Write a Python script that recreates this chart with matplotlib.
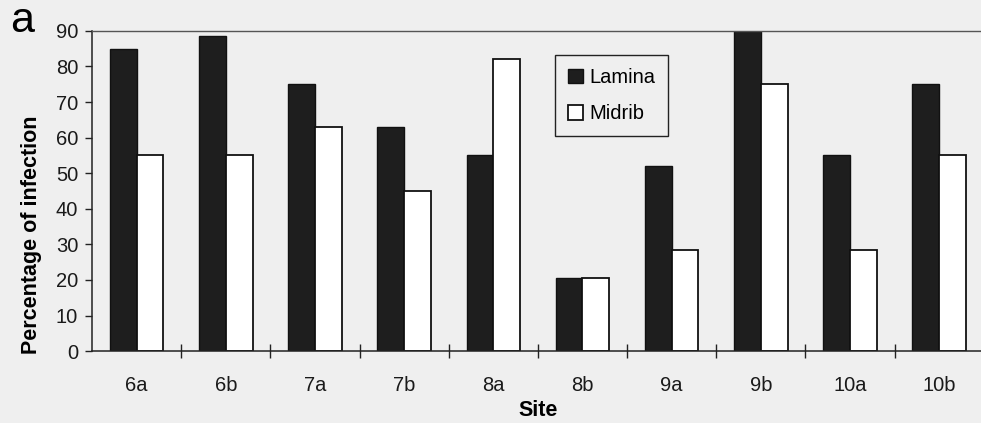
import numpy as np
import matplotlib
matplotlib.use("Agg")
import matplotlib.pyplot as plt

# infection rates per sampling site
sites = ['6a', '6b', '7a', '7b', '8a', '8b', '9a', '9b', '10a', '10b']
lamina = [85, 88.5, 75, 63, 55, 20.5, 52, 90, 55, 75]
midrib = [55, 55, 63, 45, 82, 20.5, 28.5, 75, 28.5, 55]

plt.rcParams["font.family"] = ["Liberation Sans", "DejaVu Sans"]
bg = '#efefef'

fig = plt.figure(figsize=(9.81, 4.23), dpi=100, facecolor=bg)
ax = fig.add_axes([0.0938, 0.170, 0.909, 0.757], facecolor=bg)

x = np.arange(len(sites))
w = 0.3
ax.bar(x - w / 2, lamina, width=w, color='#1e1e1e', edgecolor='#111111',
       linewidth=1.0, label='Lamina', zorder=2)
ax.bar(x + w / 2, midrib, width=w, color='white', edgecolor='#111111',
       linewidth=1.3, label='Midrib', zorder=2)

ax.set_xlim(-0.5, len(sites) - 0.5)
ax.set_ylim(0, 90)
ax.set_yticks(np.arange(0, 91, 10))

# category labels centred, ticks on the group boundaries
ax.set_xticks(x)
ax.set_xticklabels(sites, fontsize=14.5)
ax.set_xticks(np.arange(0.5, len(sites) - 0.5, 1), minor=True)
ax.tick_params(axis='x', which='major', length=0, pad=18)
ax.tick_params(axis='x', which='minor', direction='inout', length=10, width=1, color='#222222')
ax.tick_params(axis='y', direction='out', length=5, width=1, labelsize=14.5, pad=5, color='#222222')
for lbl in ax.get_yticklabels() + ax.get_xticklabels():
    lbl.set_color('#1a1a1a')

ax.spines['right'].set_visible(False)
ax.spines['top'].set_color('#555555')
ax.spines['top'].set_linewidth(1.0)
for s in ['left', 'bottom']:
    ax.spines[s].set_color('#222222')
    ax.spines[s].set_linewidth(1.1)

ax.set_ylabel('Percentage of infection', fontsize=15.5, fontweight='bold')
ax.yaxis.set_label_coords(-0.056, 0.362)
ax.set_xlabel('Site', fontsize=15.5, fontweight='bold', va='top')
ax.xaxis.set_label_coords(0.5, -0.153)

leg = ax.legend(loc='upper left', bbox_to_anchor=(555 / 981, 1 - 55 / 423),
                bbox_transform=fig.transFigure, fontsize=14.5, frameon=True,
                fancybox=False, edgecolor='#222222', facecolor=bg, framealpha=1,
                handlelength=0.75, handleheight=0.75, handletextpad=0.3,
                labelspacing=0.85, borderpad=0.65, borderaxespad=0)
leg.get_frame().set_linewidth(1.0)

fig.text(22 / 981, 1 - 32 / 423, 'a', fontsize=31, ha='center', va='baseline')

fig.savefig('out.png', dpi=100, facecolor=bg)
